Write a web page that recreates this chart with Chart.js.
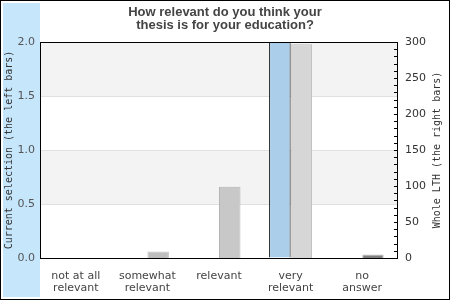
<!DOCTYPE html>
<html>
<head>
<meta charset="utf-8">
<script src="https://cdn.jsdelivr.net/npm/chart.js@4.4.0/dist/chart.umd.min.js"></script>
<style>
  body { margin: 0; background: #fff; }
  #wrap { width: 450px; height: 300px; }
</style>
</head>
<body>
<div id="wrap"><canvas id="relevanceChart" width="450" height="300"></canvas></div>
<script>
// data
const categories = [
  ['not at all', 'relevant'],
  ['somewhat', 'relevant'],
  'relevant',
  ['very', 'relevant'],
  ['no', 'answer']
];
const currentSelection = [0, 0, 0, 2, 0];
const wholeLTH = [0, 9, 99, 297, 5];
const leftTicks = [0, 0.5, 1.0, 1.5, 2.0];
const rightTicks = [0, 50, 100, 150, 200, 250, 300];

const lthColors = ['#c0c0c0', '#bebebe', '#c8c8c8', '#d6d6d6', '#808080'];
const lthBorders = ['#c0c0c0', '#bebebe', '#b4b4b4', '#bcbcbc', '#c0c0c0'];

// background: outer frame, blue strip, alternating bands
const backdropPlugin = {
  id: 'backdrop',
  beforeDraw(chart) {
    const { ctx, chartArea: { left, right, top, bottom } } = chart;
    const y = chart.scales.y;
    ctx.save();
    ctx.fillStyle = '#fff';
    ctx.fillRect(0, 0, chart.width, chart.height);
    ctx.fillStyle = '#c6e6fb';
    ctx.fillRect(3, 3, left - 3, chart.height - 6);
    // gray bands 0.5-1.0 and 1.5-2.0
    ctx.fillStyle = '#f3f3f3';
    for (let i = 1; i < leftTicks.length; i += 2) {
      const y1 = y.getPixelForValue(leftTicks[i + 1] !== undefined ? leftTicks[i + 1] : leftTicks[i]);
      const y0 = y.getPixelForValue(leftTicks[i]);
      ctx.fillRect(left, y1, right - left, y0 - y1);
    }
    ctx.restore();
  },
  afterDraw(chart) {
    const { ctx, chartArea: { left, right, top, bottom } } = chart;
    const y2 = chart.scales.y2;
    ctx.save();
    // plot box
    ctx.strokeStyle = '#000';
    ctx.lineWidth = 1;
    ctx.strokeRect(left + 0.5, top + 0.5, right - left - 1, bottom - top);
    // small inward ticks on the right axis
    ctx.beginPath();
    for (let v = 0; v <= 300; v += 10) {
      const py = Math.round(y2.getPixelForValue(v)) + 0.5;
      ctx.moveTo(right - 4, py);
      ctx.lineTo(right, py);
    }
    ctx.stroke();
    // outer frame
    ctx.strokeRect(0.5, 0.5, chart.width - 1, chart.height - 1);

    // axis titles, both reading bottom to top
    ctx.fillStyle = '#333';
    ctx.font = '10px "DejaVu Sans Mono"';
    ctx.textAlign = 'center';
    ctx.textBaseline = 'middle';
    const midY = (top + bottom) / 2;
    ctx.translate(9, midY);
    ctx.rotate(-Math.PI / 2);
    ctx.fillText('Current selection (the left bars)', 0, 0);
    ctx.setTransform(1, 0, 0, 1, 0, 0);
    ctx.translate(437, midY);
    ctx.rotate(-Math.PI / 2);
    ctx.fillText('Whole LTH (the right bars)', 0, 0);
    ctx.restore();
  }
};

new Chart(document.getElementById('relevanceChart'), {
  type: 'bar',
  data: {
    labels: categories,
    datasets: [
      {
        label: 'Current selection',
        data: currentSelection,
        yAxisID: 'y',
        backgroundColor: '#abcfea',
        borderColor: '#000',
        borderWidth: 1,
        categoryPercentage: 0.6,
        barPercentage: 1.0
      },
      {
        label: 'Whole LTH',
        data: wholeLTH,
        yAxisID: 'y2',
        backgroundColor: lthColors,
        borderColor: lthBorders,
        borderWidth: 1,
        categoryPercentage: 0.6,
        barPercentage: 1.0
      }
    ]
  },
  options: {
    responsive: false,
    animation: false,
    layout: { padding: 0 },
    plugins: {
      legend: { display: false },
      tooltip: { enabled: false },
      title: {
        display: true,
        text: ['How relevant do you think your', 'thesis is for your education?'],
        color: '#444',
        font: { family: '"Liberation Sans", Arial, sans-serif', size: 13, weight: 'bold', lineHeight: 1.0 },
        padding: { top: 6, bottom: 10 }
      }
    },
    scales: {
      x: {
        grid: { display: false, drawTicks: false },
        border: { display: false },
        ticks: {
          color: '#444',
          font: { family: '"DejaVu Sans"', size: 11, lineHeight: 1.1 },
          padding: 12,
          maxRotation: 0,
          autoSkip: false
        },
        afterFit(scale) { scale.height = 42; }
      },
      y: {
        position: 'left',
        min: 0,
        max: 2,
        afterBuildTicks(scale) { scale.ticks = leftTicks.map(v => ({ value: v })); },
        grid: { color: '#e0e0e0', drawTicks: false },
        border: { display: false },
        ticks: {
          color: '#555',
          font: { family: '"DejaVu Sans"', size: 11 },
          padding: 5,
          callback: v => v.toFixed(1)
        },
        afterFit(scale) { scale.width = 40; }
      },
      y2: {
        position: 'right',
        min: 0,
        max: 300,
        afterBuildTicks(scale) { scale.ticks = rightTicks.map(v => ({ value: v })); },
        grid: { display: false, drawTicks: false },
        border: { display: false },
        ticks: {
          color: '#333',
          font: { family: '"DejaVu Sans"', size: 11 },
          padding: 7
        },
        afterFit(scale) { scale.width = 52; }
      }
    }
  },
  plugins: [backdropPlugin]
});
</script>
</body>
</html>
